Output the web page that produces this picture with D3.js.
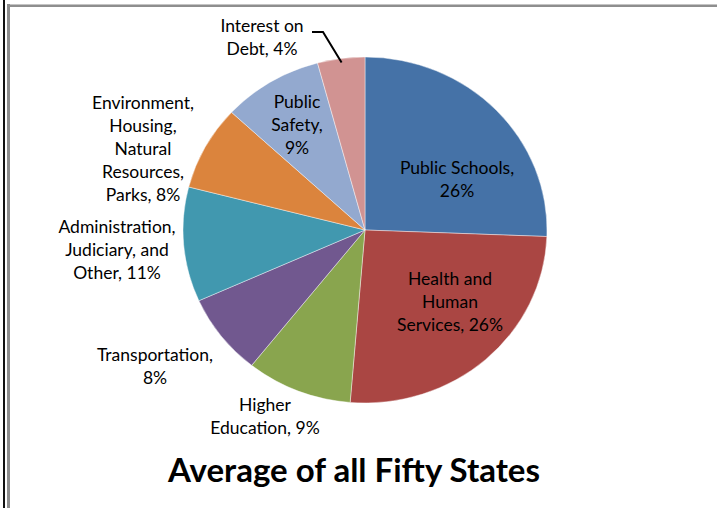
<!DOCTYPE html>
<html>
<head>
<meta charset="utf-8">
<script src="https://cdn.jsdelivr.net/npm/d3@7"></script>
<style>
  html, body { margin: 0; padding: 0; background: #fff; }
  svg { display: block; }
  text { font-family: Lato, "Open Sans", sans-serif; fill: #000; }
</style>
</head>
<body>
<svg id="chart" width="717" height="508"></svg>
<script>
// Share of spending, in percent, for each category (clockwise from 12 o'clock)
const categories = [
  "Public Schools",
  "Health and Human Services",
  "Higher Education",
  "Transportation",
  "Administration, Judiciary, and Other",
  "Environment, Housing, Natural Resources, Parks",
  "Public Safety",
  "Interest on Debt"
];
const values = [25.6, 25.7, 9.4, 7.6, 10.7, 7.9, 8.9, 4.2];

// Text of each label, broken into lines (the percentage is appended)
const labelLines = [
  ["Public Schools,"],
  ["Health and", "Human", "Services,"],
  ["Higher", "Education,"],
  ["Transportation,"],
  ["Administration,", "Judiciary, and", "Other,"],
  ["Environment,", "Housing,", "Natural", "Resources,", "Parks,"],
  ["Public", "Safety,"],
  ["Interest on", "Debt,"]
];

const colors = ["#4572A7", "#AA4643", "#89A54E", "#71588F", "#4198AF", "#DB843D", "#93A9CF", "#D19392"];

const titleText = "Average of all Fifty States";

// ---- layout ----
const svg = d3.select("#chart");
const W = 717, H = 508;
const cx = 365, cy = 230, rx = 182, ry = 173;
const lineH = 23;

// Frame
svg.append("rect").attr("x", 3).attr("y", 0).attr("width", 2).attr("height", H).attr("fill", "#111");
svg.append("rect").attr("x", 7).attr("y", 4).attr("width", W - 7).attr("height", 3).attr("fill", "#8e8e8e");
svg.append("rect").attr("x", 7).attr("y", 4).attr("width", W - 7).attr("height", 1).attr("fill", "#c4c4c4");
svg.append("rect").attr("x", 7).attr("y", 4).attr("width", 3).attr("height", H - 4).attr("fill", "#8e8e8e");

const pie = d3.pie().sort(null).value(d => d.value).startAngle(0).endAngle(2 * Math.PI);
const data = categories.map((c, i) => ({ name: c, value: values[i], color: colors[i], lines: labelLines[i] }));
const arcs = pie(data);
const arc = d3.arc().innerRadius(0).outerRadius(rx);

const g = svg.append("g").attr("transform", `translate(${cx},${cy}) scale(1,${ry / rx})`);
g.selectAll("path")
  .data(arcs)
  .join("path")
  .attr("d", arc)
  .attr("fill", d => d.data.color)
  .attr("stroke", "rgba(255,255,255,0.55)")
  .attr("stroke-width", 0.8);

// Label anchor points (line-block centres, relative to the pie centre)
const labelAt = [
  [92, -51],
  [85, 72],
  [-100, 186],
  [-210, 136],
  [-248, 20],
  [-222, -81],
  [-68, -105],
  [-103, -193]
];

const total = d3.sum(values);
const pct = d3.format(".0%");

const labels = svg.append("g");
arcs.forEach((a, i) => {
  const lines = a.data.lines.slice();
  const p = pct(a.data.value / total);
  // Percentage joins the last line, or sits alone on its own line for short blocks
  if (i === 0 || i === 3 || i === 6) lines.push(p);
  else lines[lines.length - 1] = lines[lines.length - 1] + " " + p;
  const [ox, oy] = labelAt[i];
  const top = cy + oy - (lines.length - 1) * lineH / 2;
  const t = labels.append("text")
    .attr("text-anchor", "middle")
    .attr("font-size", 17.5);
  lines.forEach((ln, k) => {
    t.append("tspan")
      .attr("x", cx + ox)
      .attr("y", top + k * lineH)
      .attr("dy", "0.35em")
      .text(ln);
  });
});

// Leader line for the small slice at the top
const small = arcs[7];
const mid = (small.startAngle + small.endAngle) / 2;
const edge = [cx + Math.sin(mid) * (rx - 4), cy - Math.cos(mid) * (ry - 4)];
svg.append("path")
  .attr("d", d3.line()([[cx - 53, cy - 198], [cx - 42, cy - 198], edge]))
  .attr("fill", "none")
  .attr("stroke", "#000")
  .attr("stroke-width", 2);

// Title
svg.append("text")
  .attr("x", 354)
  .attr("y", 482)
  .attr("text-anchor", "middle")
  .attr("font-size", 33)
  .attr("font-weight", "bold")
  .text(titleText);
</script>
</body>
</html>
